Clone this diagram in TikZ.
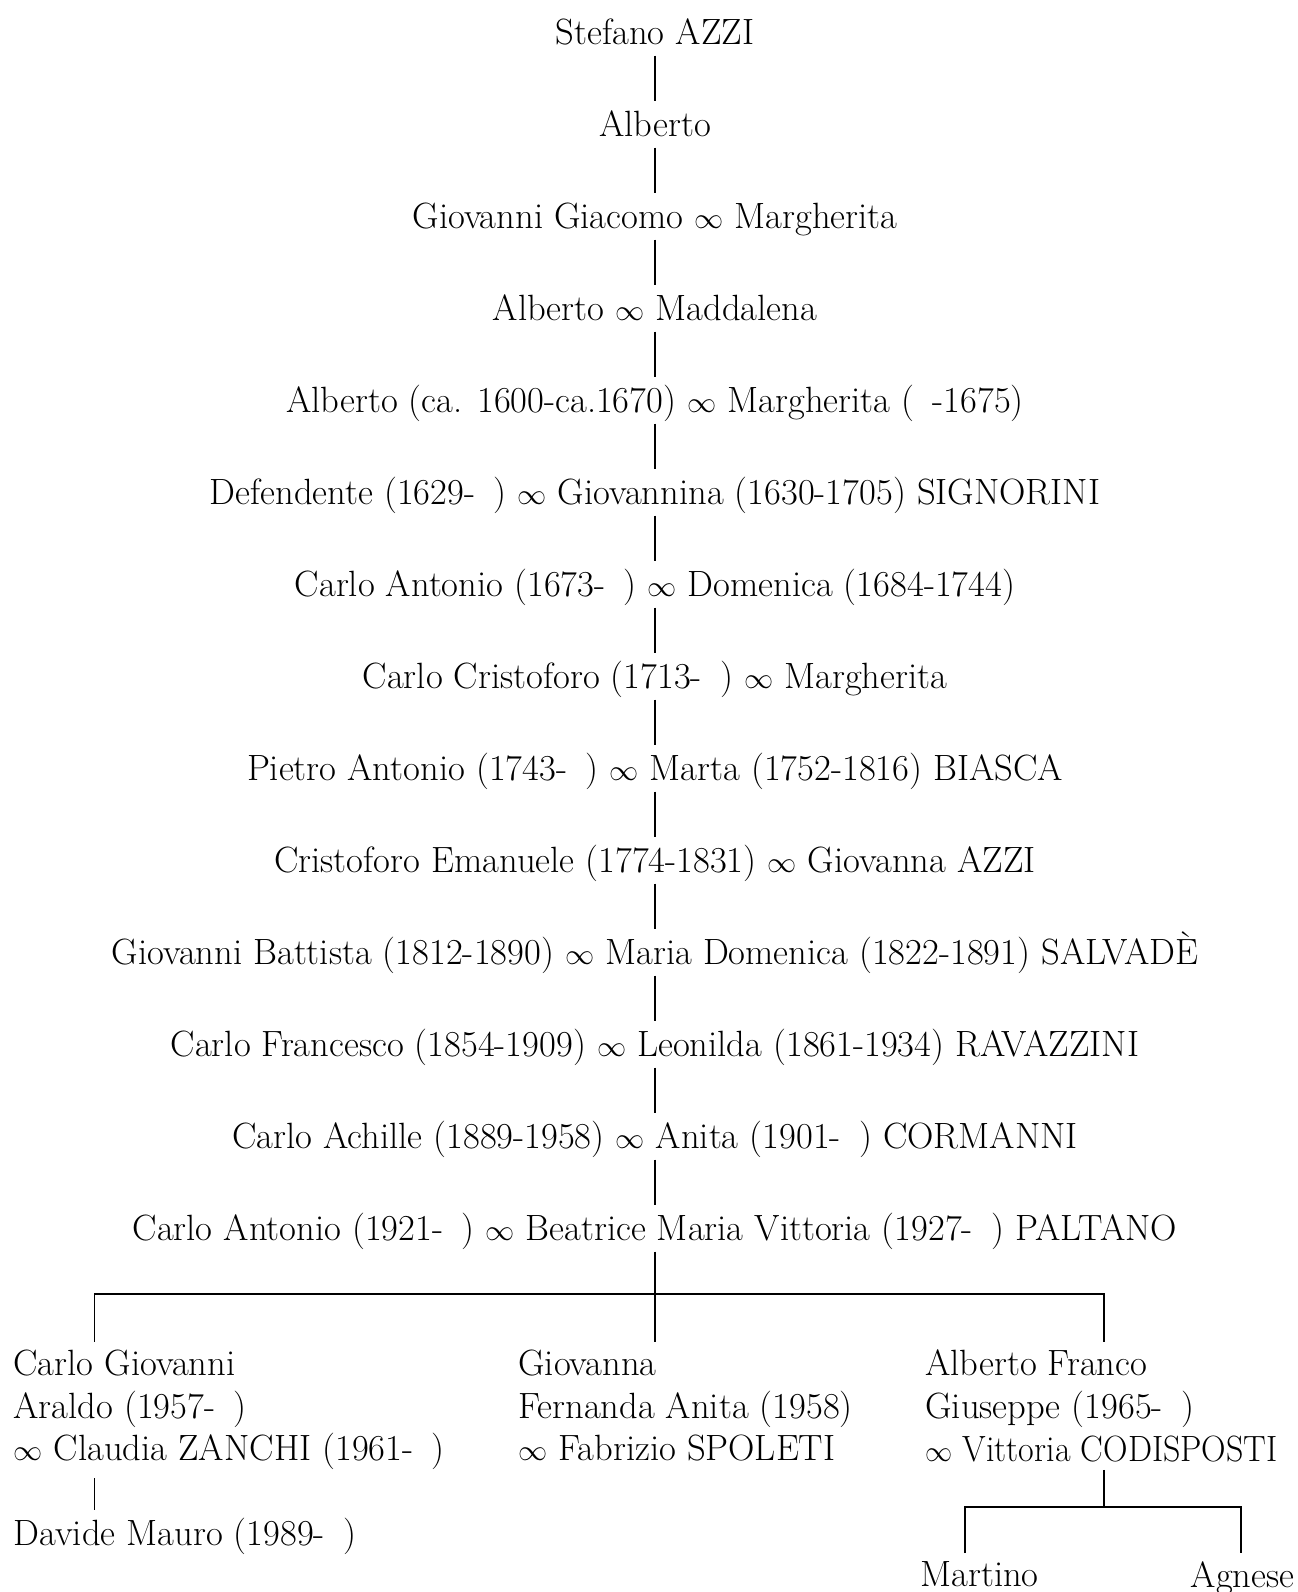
\documentclass[tikz,border=0pt]{standalone}
\usepackage{amsmath}
\usepackage{amssymb}
\newcommand{\wed}{\scalebox{0.8}{$\infty$}}

\begin{document}
\begin{tikzpicture}
	[font=\fontsize{20.8pt}{24.3pt}\selectfont,
	person/.style	= {anchor=base, inner xsep=3pt, inner ysep=3pt, text height=17pt, text depth=3pt},
	child/.style	= {anchor=north west, align=left, inner xsep=0pt, inner ysep=4.5pt},
	kid/.style		= {anchor=north, inner xsep=0pt, inner ysep=4.5pt},
	descent/.style	= {line width=1.1pt}]
	
	\useasboundingbox (0, 0) rectangle (25.96, -31.84);
	
	\node at (13.1, -0.894)		[person]	(g0)	{Stefano AZZI};
	\node at (13.1, -2.734)		[person]	(g1)	{Alberto};
	\node at (13.1, -4.574)		[person]	(g2)	{Giovanni Giacomo \wed{} Margherita};
	\node at (13.1, -6.414)		[person]	(g3)	{Alberto \wed{} Maddalena};
	\node at (13.1, -8.254)		[person]	(g4)	{Alberto (ca. 1600-ca.1670) \wed{} Margherita (\enspace -1675)};
	\node at (13.1, -10.094)	[person]	(g5)	{Defendente (1629-\enspace) \wed{} Giovannina (1630-1705) SIGNORINI};
	\node at (13.1, -11.934)	[person]	(g6)	{Carlo Antonio (1673-\enspace) \wed{} Domenica (1684-1744)};
	\node at (13.1, -13.774)	[person]	(g7)	{Carlo Cristoforo (1713-\enspace) \wed{} Margherita};
	\node at (13.1, -15.614)	[person]	(g8)	{Pietro Antonio (1743-\enspace) \wed{} Marta (1752-1816) BIASCA};
	\node at (13.1, -17.454)	[person]	(g9)	{Cristoforo Emanuele (1774-1831) \wed{} Giovanna AZZI};
	\node at (13.1, -19.294)	[person]	(g10)	{Giovanni Battista (1812-1890) \wed{} Maria Domenica (1822-1891) SALVADÈ};
	\node at (13.1, -21.134)	[person]	(g11)	{Carlo Francesco (1854-1909) \wed{} Leonilda (1861-1934) RAVAZZINI};
	\node at (13.1, -22.974)	[person]	(g12)	{Carlo Achille (1889-1958) \wed{} Anita (1901-\enspace) CORMANNI};
	\node at (13.1, -24.814)	[person]	(g13)	{Carlo Antonio (1921-\enspace) \wed{} Beatrice Maria Vittoria (1927-\enspace) PALTANO};
	
	\node at (0.264, -26.83)	[child]		(cg)	{Carlo Giovanni\\Araldo (1957-\enspace)\\\wed{} Claudia ZANCHI (1961-\enspace)};
	\node at (10.36, -26.83)	[child]		(gi)	{Giovanna\\Fernanda Anita (1958)\\\wed{} Fabrizio SPOLETI};
	\node at (18.5, -26.83)		[child]		(af)	{Alberto Franco\\Giuseppe (1965-\enspace)\\\scalebox{0.93}[1]{\wed{} Vittoria CODISPOSTI}};
	
	\node at (0.264, -30.2)		[child]		(dm)	{Davide Mauro (1989-\enspace)};
	\node at (19.59, -31.06)	[kid]		(ma)	{Martino};
	\node at (24.85, -31.06)	[kid]		(ag)	{Agnese};
	
	\coordinate (jl) at (1.89, -25.88);
	\coordinate (jr) at (22.08, -25.88);
	\coordinate (kl) at (19.3, -30.14);
	\coordinate (kr) at (24.82, -30.14);
	
	\draw [descent] (g0) -- (g1);
	\draw [descent] (g1) -- (g2);
	\draw [descent] (g2) -- (g3);
	\draw [descent] (g3) -- (g4);
	\draw [descent] (g4) -- (g5);
	\draw [descent] (g5) -- (g6);
	\draw [descent] (g6) -- (g7);
	\draw [descent] (g7) -- (g8);
	\draw [descent] (g8) -- (g9);
	\draw [descent] (g9) -- (g10);
	\draw [descent] (g10) -- (g11);
	\draw [descent] (g11) -- (g12);
	\draw [descent] (g12) -- (g13);
	
	\draw [descent] (g13) -- (g13 |- gi.north);
	\draw [descent] (cg.north -| jl) -- (jl) -- (jr) -- (af.north -| jr);
	
	\draw [descent] (cg.south -| jl) -- (dm.north -| jl);
	\draw [descent] (af.south -| jr) -- (jr |- kl);
	\draw [descent] (ma.north -| kl) -- (kl) -- (kr) -- (ag.north -| kr);
\end{tikzpicture}
\end{document}
